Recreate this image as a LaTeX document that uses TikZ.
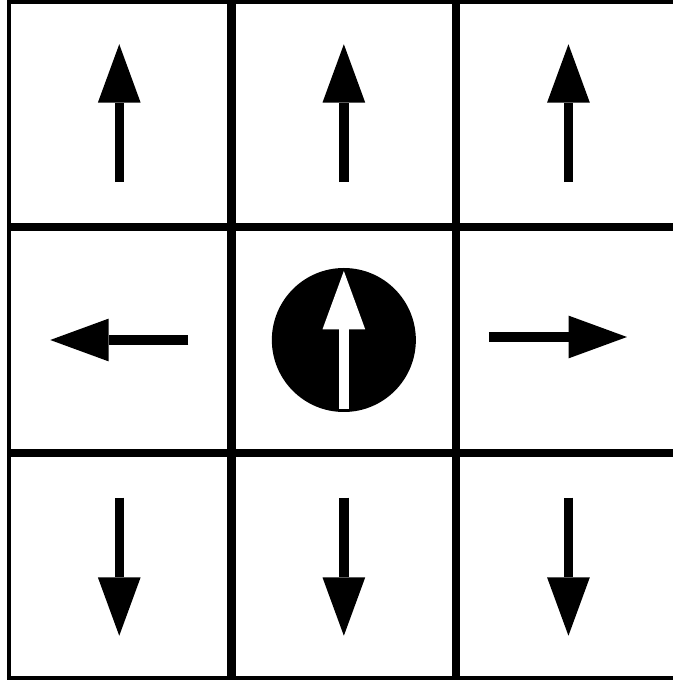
\documentclass[tikz,border=0pt]{standalone}
\usetikzlibrary{arrows.meta}
\begin{document}
\begin{tikzpicture}[x=1pt,y=1pt,
cell/.style={draw,line width=4.2pt,minimum width=220.5pt,minimum height=223pt,inner sep=0pt},
arr/.style={-{Triangle[length=58.3pt,width=42.7pt,line width=0pt]},line width=9.3pt}]
\useasboundingbox (0,0) rectangle (672,680);
\node[cell] (c11) at (119.25,566.75) {};
\node[cell] (c12) at (343.85,566.75) {};
\node[cell] (c13) at (568.45,566.75) {};
\node[cell] (c21) at (119.25,340) {};
\node[cell] (c22) at (343.85,340) {};
\node[cell] (c23) at (568.45,340) {};
\node[cell] (c31) at (119.25,113.25) {};
\node[cell] (c32) at (343.85,113.25) {};
\node[cell] (c33) at (568.45,113.25) {};
\node[circle,fill,inner sep=0pt,minimum size=144pt] (agent) at (c22.center) {};

\draw[arr] ([yshift=-69pt]c11.center) -- ([yshift=69pt]c11.center);
\draw[arr] ([yshift=-69pt]c12.center) -- ([yshift=69pt]c12.center);
\draw[arr] ([yshift=-69pt]c13.center) -- ([yshift=69pt]c13.center);
\draw[arr] ([xshift=69pt]c21.center) -- ([xshift=-69pt]c21.center);
\draw[arr,white] ([yshift=-69pt]agent.center) -- ([yshift=69pt]agent.center);
\draw[arr] ([xshift=-79.5pt,yshift=3pt]c23.center) -- ([xshift=58.5pt,yshift=3pt]c23.center);
\draw[arr] ([yshift=69pt]c31.center) -- ([yshift=-69pt]c31.center);
\draw[arr] ([yshift=69pt]c32.center) -- ([yshift=-69pt]c32.center);
\draw[arr] ([yshift=69pt]c33.center) -- ([yshift=-69pt]c33.center);
\end{tikzpicture}
\end{document}
